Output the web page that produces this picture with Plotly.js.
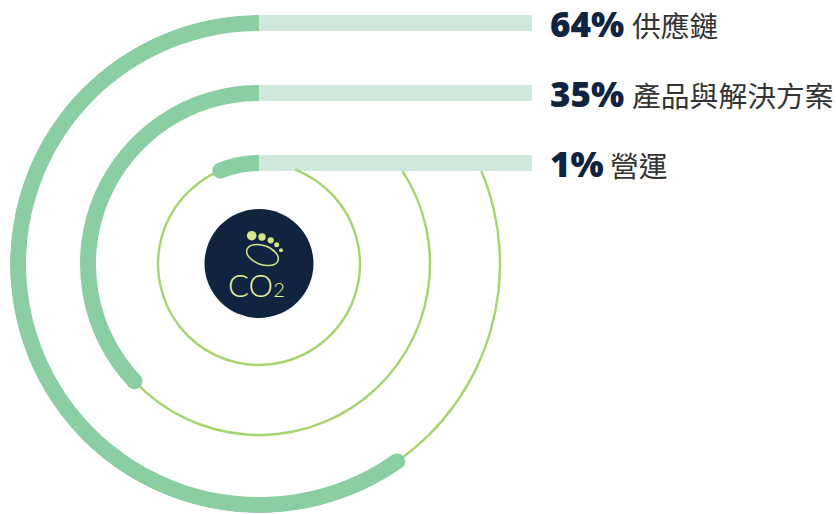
<!DOCTYPE html>
<html><head><meta charset="utf-8">
<script src="https://cdn.plot.ly/plotly-3.0.1.min.js"></script>
<style>html,body{margin:0;padding:0;background:#fff}#c{width:836px;height:514px}</style>
</head><body><div id="c"></div>
<script>
const categories = ['供應鏈','產品與解決方案','營運'];
const shares = ['64%','35%','1%'];
const trackValues = [100,100,100];
const arcDegrees = [215,133.3,22.5];
const ringRadius = [241,171,101];
const ringStopDegrees = [292.7,303,339];
const logoDotX = [251.7,262,270.7,276.7,281];
const logoDotY = [235.7,237,240.3,244.7,250.3];
const logoDotSize = [9.6,7.4,6.2,5,4];

const W=836,H=514;
const cArc='#8ccea3', cTrack='#d0e9dc', cRing='#a6d46f', cNavy='#10233f', cLogo='#d6e48a', cText='#333333';
const bandW=16, ringW=2.4;

const traces=[];
traces.push({type:'bar',orientation:'h',y:categories,x:trackValues,width:0.2286,xaxis:'x',yaxis:'y',
  marker:{color:cTrack,line:{width:0}},hoverinfo:'skip'});
traces.push({type:'scatter',mode:'markers',x:[259],y:[263.5],xaxis:'x2',yaxis:'y2',
  marker:{size:109,color:cNavy,opacity:1,line:{width:0}},hoverinfo:'skip'});
traces.push({type:'scatter',mode:'markers',x:logoDotX,y:logoDotY,xaxis:'x2',yaxis:'y2',
  marker:{size:logoDotSize,color:cLogo,opacity:1,line:{width:0}},hoverinfo:'skip'});
traces.push({type:'barpolar',subplot:'polar',
  r:ringRadius.map(()=>ringW),base:ringRadius.map(r=>r-ringW/2),
  theta:arcDegrees.map((a,i)=>(a+ringStopDegrees[i])/2),
  width:arcDegrees.map((a,i)=>ringStopDegrees[i]-a),
  marker:{color:cRing,line:{width:0}},hoverinfo:'skip'});
traces.push({type:'barpolar',subplot:'polar',
  r:ringRadius.map(()=>bandW),base:ringRadius.map(r=>r-bandW/2),
  theta:arcDegrees.map(a=>a/2),width:arcDegrees,
  marker:{color:cArc,line:{width:0}},hoverinfo:'skip'});
traces.push({type:'scatterpolar',subplot:'polar',mode:'markers',r:ringRadius,theta:arcDegrees,
  marker:{size:bandW,color:cArc,line:{width:0}},hoverinfo:'skip'});

// tilted outline of the footprint sole, as four bezier segments
function ellipsePath(cx,cy,rx,ry,deg){
  const t=deg*Math.PI/180,c=Math.cos(t),s=Math.sin(t),k=0.5523;
  const P=(u,v)=>(cx+u*c-v*s).toFixed(2)+','+(cy+u*s+v*c).toFixed(2);
  return 'M'+P(rx,0)+'C'+P(rx,k*ry)+' '+P(k*rx,ry)+' '+P(0,ry)+
    'C'+P(-k*rx,ry)+' '+P(-rx,k*ry)+' '+P(-rx,0)+
    'C'+P(-rx,-k*ry)+' '+P(-k*rx,-ry)+' '+P(0,-ry)+
    'C'+P(k*rx,-ry)+' '+P(rx,-k*ry)+' '+P(rx,0)+'Z';
}

const annotations=[];
const numFont={family:'"Open Sans", sans-serif',size:35,color:cNavy,weight:800};
const catFont={family:'"Noto Sans CJK TC", sans-serif',size:28.8,color:cText};
const catX=[631,631,609];
categories.forEach((c,i)=>{
  annotations.push({xref:'paper',x:549/W,yref:'y',y:c,text:shares[i],showarrow:false,xanchor:'left',yanchor:'middle',font:numFont,yshift:0,borderpad:0});
  annotations.push({xref:'paper',x:catX[i]/W,yref:'y',y:c,text:c,showarrow:false,xanchor:'left',yanchor:'middle',font:catFont,yshift:-1,borderpad:0});
});
annotations.push({xref:'x2',yref:'y2',x:256,y:285,text:'CO<span style="font-size:20px">2</span>',showarrow:false,xanchor:'center',yanchor:'middle',
  font:{family:'Lato, sans-serif',size:31,color:'#eaf59c',weight:300}});

const hidden={visible:false,showgrid:false,zeroline:false,fixedrange:true};
const layout={
  width:W,height:H,margin:{l:0,r:0,t:0,b:0,pad:0},paper_bgcolor:'#fff',plot_bgcolor:'rgba(0,0,0,0)',showlegend:false,
  xaxis:Object.assign({},hidden,{domain:[259/W,532/W],range:[0,100],anchor:'y'}),
  yaxis:Object.assign({},hidden,{domain:[1-198/H,1],type:'category',categoryorder:'array',categoryarray:categories,range:[2.5,-0.3286],anchor:'x'}),
  xaxis2:Object.assign({},hidden,{domain:[0,1],range:[0,W],anchor:'y2'}),
  yaxis2:Object.assign({},hidden,{domain:[0,1],range:[H,0],anchor:'x2'}),
  polar:{
    domain:{x:[10/W,508/W],y:[1-513/H,1-15/H]},
    bgcolor:'rgba(0,0,0,0)',barmode:'overlay',
    radialaxis:{visible:false,range:[0,249],showgrid:false,showline:false,showticklabels:false,ticks:''},
    angularaxis:{visible:false,rotation:90,direction:'counterclockwise',showgrid:false,showline:false,showticklabels:false,ticks:''}
  },
  shapes:[{type:'path',xref:'x2',yref:'y2',layer:'above',path:ellipsePath(262.5,255,16.5,9.5,20),
    line:{color:cLogo,width:1.5},fillcolor:'rgba(0,0,0,0)'}],
  annotations
};
Plotly.newPlot('c',traces,layout,{displayModeBar:false,staticPlot:true,responsive:false});
</script></body></html>
